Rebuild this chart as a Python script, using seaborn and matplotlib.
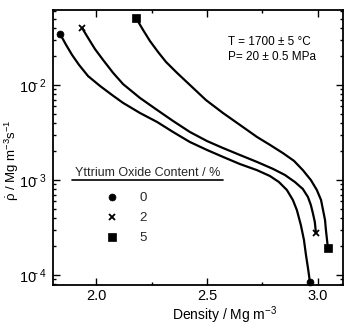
import numpy as np
import pandas as pd
import matplotlib
matplotlib.use("Agg")
import matplotlib.pyplot as plt
import seaborn as sns
from matplotlib.ticker import LogLocator, MultipleLocator, NullFormatter, FuncFormatter
from matplotlib.lines import Line2D

# densification rate (Mg m-3 s-1) vs density (Mg m-3)
# 0 % Y2O3
dens0 = [1.838, 1.865, 1.892, 1.923, 1.964, 2.018, 2.072, 2.122, 2.198, 2.275,
         2.347, 2.423, 2.500, 2.572, 2.649, 2.725, 2.784, 2.824, 2.860, 2.887,
         2.905, 2.923, 2.937, 2.946, 2.955, 2.964]
rate0 = [3.44e-2, 2.64e-2, 2.07e-2, 1.63e-2, 1.24e-2, 9.76e-3, 7.85e-3, 6.47e-3,
         5.07e-3, 4.08e-3, 3.20e-3, 2.51e-3, 2.07e-3, 1.75e-3, 1.47e-3, 1.27e-3,
         1.10e-3, 9.53e-4, 7.85e-4, 6.16e-4, 4.83e-4, 3.36e-4, 2.34e-4, 1.63e-4,
         1.19e-4, 8.43e-5]
# 2 % Y2O3
dens2 = [1.937, 1.964, 1.995, 2.032, 2.077, 2.122, 2.198, 2.275, 2.347, 2.423,
         2.500, 2.572, 2.649, 2.725, 2.797, 2.851, 2.896, 2.932, 2.955, 2.968,
         2.977, 2.986, 2.991]
rate2 = [3.98e-2, 3.13e-2, 2.39e-2, 1.83e-2, 1.34e-2, 1.02e-2, 7.30e-3, 5.46e-3,
         4.18e-3, 3.20e-3, 2.57e-3, 2.17e-3, 1.83e-3, 1.55e-3, 1.31e-3, 1.13e-3,
         9.53e-4, 8.04e-4, 6.62e-4, 5.46e-4, 4.50e-4, 3.61e-4, 2.77e-4]
# 5 % Y2O3
dens5 = [2.180, 2.212, 2.243, 2.279, 2.315, 2.365, 2.423, 2.495, 2.572, 2.649,
         2.725, 2.784, 2.842, 2.892, 2.932, 2.968, 2.995, 3.014, 3.023, 3.032,
         3.036, 3.041, 3.045]
rate5 = [5.07e-2, 3.79e-2, 2.90e-2, 2.23e-2, 1.75e-2, 1.34e-2, 1.00e-2, 6.95e-3,
         5.07e-3, 3.79e-3, 2.84e-3, 2.34e-3, 1.92e-3, 1.59e-3, 1.27e-3, 1.00e-3,
         7.85e-4, 6.16e-4, 4.83e-4, 3.79e-4, 2.98e-4, 2.34e-4, 1.92e-4]

contents = ["0", "2", "5"]
markers = ["o", "x", "s"]
msizes = [5, 5, 5.5]

df = pd.concat([
    pd.DataFrame({"dens": d, "rate": r, "content": c})
    for d, r, c in zip([dens0, dens2, dens5], [rate0, rate2, rate5], contents)
], ignore_index=True)

sns.set_theme(style="ticks")
plt.rcParams["font.family"] = ["Liberation Sans", "DejaVu Sans"]
plt.rcParams["mathtext.fontset"] = "custom"
plt.rcParams["mathtext.rm"] = "Liberation Sans"
plt.rcParams["mathtext.it"] = "Liberation Sans"
plt.rcParams["mathtext.bf"] = "Liberation Sans"

fig = plt.figure(figsize=(3.45, 3.25), dpi=100)
ax = fig.add_axes([53 / 345, 40 / 325, 290 / 345, 275 / 325])

sns.lineplot(data=df, x="dens", y="rate", hue="content", palette=["black"] * 3,
             sort=False, estimator=None, legend=False, lw=1.6, ax=ax)

handles = []
for c, m, ms in zip(contents, markers, msizes):
    sub = df[df.content == c]
    ends = sub.iloc[[0, -1]]
    h, = ax.plot(ends.dens, ends.rate, ls="none", marker=m, ms=ms, color="black",
                 mew=1.3 if m == "x" else 0.5, label=c, clip_on=False, zorder=5)
    handles.append(h)

ax.set_yscale("log")
ax.set_xlim(1.806, 3.113)
ax.set_ylim(7.85e-5, 6.15e-2)

ax.xaxis.set_major_locator(MultipleLocator(0.5))
ax.xaxis.set_minor_locator(MultipleLocator(0.25))
ax.xaxis.set_major_formatter(matplotlib.ticker.FormatStrFormatter("%.1f"))
ax.yaxis.set_major_locator(LogLocator(base=10, numticks=10))
ax.yaxis.set_minor_locator(LogLocator(base=10, subs=np.arange(2, 10), numticks=20))
# exponent tucked over the "0", as in the hand-lettered original
ax.yaxis.set_major_formatter(FuncFormatter(
    lambda v, pos: r"$10^{\!\!\!\!%d}$" % round(np.log10(v))))
ax.yaxis.set_minor_formatter(NullFormatter())

ax.tick_params(which="both", direction="in", top=True, right=True, color="black", width=1)
ax.tick_params(which="major", length=5, labelsize=10.5, labelcolor="black")
ax.tick_params(axis="x", which="major", pad=3)
ax.tick_params(axis="y", which="major", pad=5)
ax.tick_params(which="minor", length=2.5)
for s in ax.spines.values():
    s.set_color("black")
    s.set_linewidth(1.3)

ax.set_xlabel("Density / Mg m$^{-3}$", fontsize=10, color="black")
ax.xaxis.set_label_coords(0.593, -0.071)
ax.set_ylabel(r"$\dot{\rho}$ / Mg m$^{-3}$s$^{-1}$", fontsize=9.5, color="black")
ax.yaxis.set_label_coords(-0.11, 0.455)

ax.text(0.603, 0.873, "T = 1700 ± 5 °C", transform=ax.transAxes, fontsize=8.5,
        va="baseline", color="black")
ax.text(0.603, 0.818, "P= 20 ± 0.5 MPa", transform=ax.transAxes, fontsize=8.5,
        va="baseline", color="black")

leg = ax.legend(handles=handles, labels=contents, title="Yttrium Oxide Content / %",
                loc="upper left", bbox_to_anchor=(0.076, 0.43), frameon=False,
                fontsize=9.5, title_fontsize=9, borderpad=0, borderaxespad=0,
                handlelength=5.6, handletextpad=-0.7, labelspacing=0.6,
                alignment="left")
# a bit more room between the title and the entries
leg._legend_box.sep = 9.5

# underline the legend title
fig.canvas.draw()
bb = leg.get_title().get_window_extent()
fig.add_artist(Line2D([bb.x0 - 3, bb.x1 + 3], [bb.y0 - 1, bb.y0 - 1],
                      transform=None, color="black", lw=1.2))

fig.savefig("out.png", dpi=100, facecolor="white")
